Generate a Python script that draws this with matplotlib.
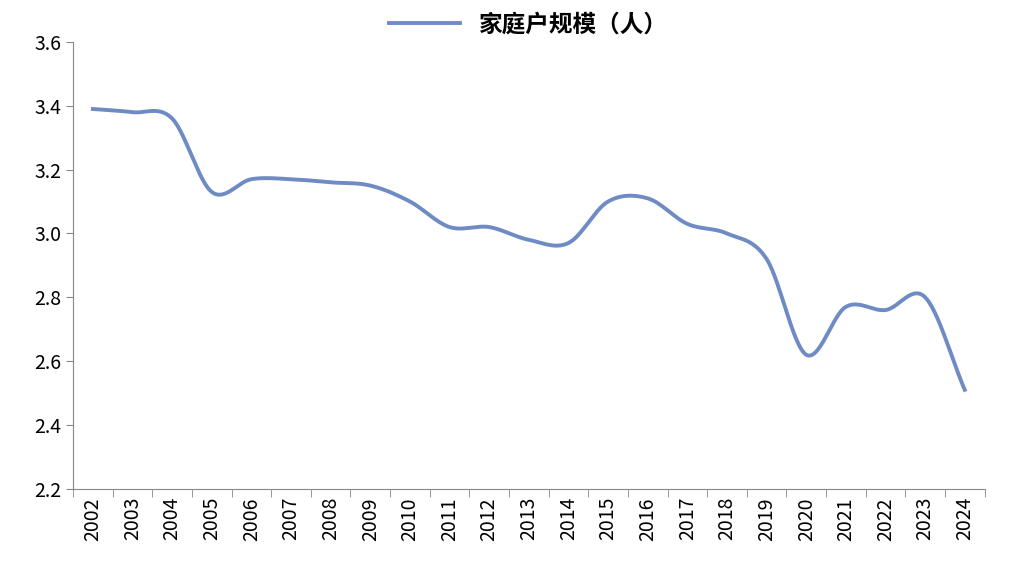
import matplotlib
matplotlib.use("Agg")
import matplotlib.pyplot as plt
import numpy as np

plt.rcParams['font.family'] = ['Noto Sans CJK SC', 'DejaVu Sans']

years = [str(y) for y in range(2002, 2025)]
values = [3.39, 3.38, 3.36, 3.13, 3.17, 3.17, 3.16, 3.15, 3.10, 3.02, 3.02, 2.98, 2.97,
          3.10, 3.11, 3.03, 3.00, 2.92, 2.62, 2.77, 2.76, 2.80, 2.51]
label = "家庭户规模（人）"

def catmull(x, y, n=30):
    x = np.asarray(x, float); y = np.asarray(y, float)
    px = np.concatenate([[2*x[0]-x[1]], x, [2*x[-1]-x[-2]]])
    py = np.concatenate([[2*y[0]-y[1]], y, [2*y[-1]-y[-2]]])
    xs, ys = [], []
    t = np.linspace(0, 1, n, endpoint=False)
    for i in range(1, len(px)-2):
        p0, p1, p2, p3 = py[i-1], py[i], py[i+1], py[i+2]
        q0, q1, q2, q3 = px[i-1], px[i], px[i+1], px[i+2]
        f = lambda a0, a1, a2, a3: 0.5*((2*a1) + (-a0+a2)*t + (2*a0-5*a1+4*a2-a3)*t**2 + (-a0+3*a1-3*a2+a3)*t**3)
        xs.append(f(q0, q1, q2, q3)); ys.append(f(p0, p1, p2, p3))
    xs.append([x[-1]]); ys.append([y[-1]])
    return np.concatenate(xs), np.concatenate(ys)

fig = plt.figure(figsize=(10.15, 5.67), dpi=100)
ax = fig.add_axes([0.072, 0.138, 0.898, 0.788])
xi = np.arange(len(years))
sx, sy = catmull(xi, values)
ax.plot(sx, sy, color='#6E8BC4', lw=2.8, label=label)
ax.set_xlim(-0.5, len(years)-0.5)
ax.set_ylim(2.2, 3.6)
ax.set_yticks(np.arange(2.2, 3.61, 0.2))
ax.set_yticklabels([f"{v:.1f}" for v in np.arange(2.2, 3.61, 0.2)], fontsize=14)
ax.set_xticks(xi)
ax.set_xticklabels(years, rotation=90, fontsize=14)
ax.set_xticks(np.arange(-0.5, len(years)), minor=True)
ax.tick_params(axis='x', which='major', length=0, pad=6)
ax.tick_params(axis='x', which='minor', length=6, color='#888888')
ax.tick_params(axis='y', length=5, color='#888888')
for s in ['top', 'right']:
    ax.spines[s].set_visible(False)
for s in ['left', 'bottom']:
    ax.spines[s].set_color('#888888')
ax.legend(loc='lower center', bbox_to_anchor=(0.5, 0.965), frameon=False,
          prop={'size': 17, 'weight': 'bold'}, handlelength=3)
fig.savefig("out.png", dpi=100)
